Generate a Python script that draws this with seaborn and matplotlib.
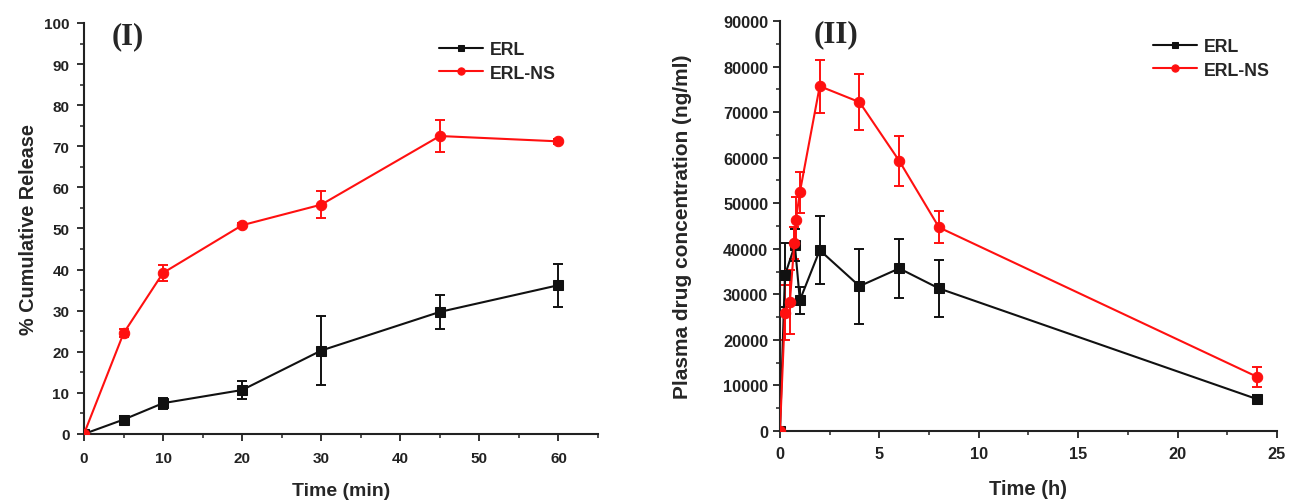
import matplotlib
matplotlib.use("Agg")
import matplotlib.pyplot as plt
import seaborn as sns
import pandas as pd
from matplotlib.ticker import MultipleLocator

# ---------------- data ----------------
# Panel I: in-vitro release
t_rel = [0, 5, 10, 20, 30, 45, 60]
erl_rel = [0, 3.5, 7.5, 10.7, 20.3, 29.7, 36.2]
erl_rel_err = [0, 0.8, 1.3, 2.3, 8.5, 4.1, 5.2]
ns_rel = [0, 24.5, 39.2, 50.8, 55.8, 72.5, 71.2]
ns_rel_err = [0, 1.0, 2.0, 0.6, 3.3, 4.0, 0.6]

# Panel II: plasma concentration
t_erl = [0, 0.25, 0.75, 1, 2, 4, 6, 8, 24]
erl_pk = [0, 34200, 40800, 28700, 39700, 31800, 35700, 31300, 7000]
erl_pk_err = [0, 7000, 3500, 3000, 7500, 8200, 6500, 6200, 900]
t_ns = [0, 0.25, 0.5, 0.72, 0.8, 1, 2, 4, 6, 8, 24]
ns_pk = [0, 26000, 28400, 41200, 46300, 52400, 75700, 72200, 59300, 44700, 11900]
ns_pk_err = [0, 6000, 7000, 3500, 5000, 4500, 5800, 6200, 5500, 3500, 2200]

labels = ["ERL", "ERL-NS"]

# ---------------- style ----------------
sns.set_style("ticks")
plt.rcParams["font.family"] = ["Liberation Sans", "DejaVu Sans"]

RED = "#ff1010"
BLACK = "#111111"

fig = plt.figure(figsize=(12.98, 5.02), dpi=100)
ax1 = fig.add_axes([0.0647, 0.1335, 0.3960, 0.8187])
ax2 = fig.add_axes([0.6009, 0.1394, 0.3829, 0.8167])


def draw(ax, x1, y1, e1, x2, y2, e2):
    d1 = pd.DataFrame({"x": x1, "y": y1})
    d2 = pd.DataFrame({"x": x2, "y": y2})
    ax.errorbar(x1, y1, yerr=e1, fmt="none", ecolor=BLACK, elinewidth=1.4,
                capsize=3.5, capthick=1.4, zorder=2)
    ax.errorbar(x2, y2, yerr=e2, fmt="none", ecolor=RED, elinewidth=1.4,
                capsize=3.5, capthick=1.4, zorder=2)
    sns.lineplot(data=d1, x="x", y="y", ax=ax, color=BLACK, marker="s",
                 markersize=6.5, markeredgecolor=BLACK, linewidth=1.5,
                 label=labels[0], zorder=3)
    sns.lineplot(data=d2, x="x", y="y", ax=ax, color=RED, marker="o",
                 markersize=7.5, markeredgecolor=RED, linewidth=1.5,
                 label=labels[1], zorder=3)


draw(ax1, t_rel, erl_rel, erl_rel_err, t_rel, ns_rel, ns_rel_err)
draw(ax2, t_erl, erl_pk, erl_pk_err, t_ns, ns_pk, ns_pk_err)

ax1.set_xlim(0, 65)
ax1.set_ylim(0, 100)
ax1.set_xticks(range(0, 61, 10))
ax1.xaxis.set_minor_locator(MultipleLocator(5))
ax1.yaxis.set_major_locator(MultipleLocator(10))
ax1.yaxis.set_minor_locator(MultipleLocator(5))

ax2.set_xlim(0, 25)
ax2.set_ylim(0, 90000)
ax2.xaxis.set_major_locator(MultipleLocator(5))
ax2.xaxis.set_minor_locator(MultipleLocator(2.5))
ax2.yaxis.set_major_locator(MultipleLocator(10000))
ax2.yaxis.set_minor_locator(MultipleLocator(5000))

for ax, tsize, xpad, ypad in ((ax1, 11, 7, 5.5), (ax2, 11.8, 5.5, 3.5)):
    sns.despine(ax=ax)
    for s in ("left", "bottom"):
        ax.spines[s].set_linewidth(1.5)
        ax.spines[s].set_color("#222222")
    ax.tick_params(which="major", direction="out", length=5, width=1.3,
                   colors="#222222")
    ax.tick_params(which="minor", direction="out", length=3, width=1.1,
                   colors="#222222")
    ax.tick_params(axis="x", which="major", pad=xpad)
    ax.tick_params(axis="y", which="major", pad=ypad)
    for lab in ax.get_xticklabels() + ax.get_yticklabels():
        lab.set_fontweight("bold")
        lab.set_fontsize(tsize)

ax1.set_xlabel("Time (min)", fontsize=14, fontweight="bold", labelpad=12.5)
ax1.set_ylabel("% Cumulative Release", fontsize=14.3, fontweight="bold", labelpad=4)
ax2.set_xlabel("Time (h)", fontsize=14.5, fontweight="bold", labelpad=13)
ax2.set_ylabel("Plasma drug concentration (ng/ml)", fontsize=15,
               fontweight="bold", labelpad=22)

ax1.text(0.086, 0.97, "(I)", transform=ax1.transAxes, ha="center", va="center",
         fontsize=22, fontweight="bold", family=["Liberation Serif", "DejaVu Serif"])
ax2.text(0.113, 0.968, "(II)", transform=ax2.transAxes, ha="center", va="center",
         fontsize=22.5, fontweight="bold", family=["Liberation Serif", "DejaVu Serif"])

leg_kw = dict(loc="upper left", frameon=False, borderpad=0, borderaxespad=0,
              handlelength=2.5, handletextpad=0.35, labelspacing=0.36,
              markerscale=0.7, prop={"weight": "bold", "size": 12.8})
ax1.legend(bbox_to_anchor=(0.3382, 0.9160), bbox_transform=fig.transFigure, **leg_kw)
ax2.legend(bbox_to_anchor=(0.8883, 0.9220), bbox_transform=fig.transFigure, **leg_kw)

fig.savefig("out.png", dpi=100)
